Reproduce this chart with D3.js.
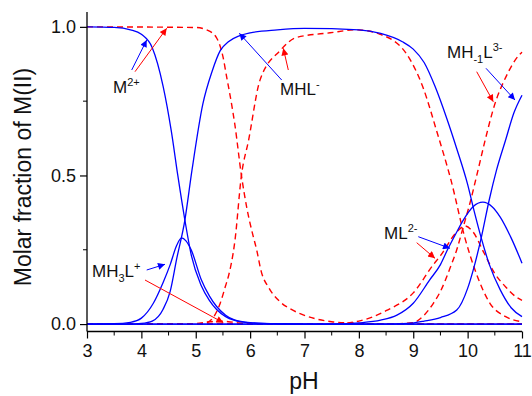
<!DOCTYPE html>
<html>
<head>
<meta charset="utf-8">
<script src="https://cdn.jsdelivr.net/npm/d3@7"></script>
<style>
  body { margin: 0; background: #fff; }
  text { font-family: "Liberation Sans", Arial, sans-serif; fill: #111; }
</style>
</head>
<body>
<div id="chart"></div>
<script>
// pH / fraction pairs
// blue (solid) system
var blueM = [[3,1],[3.5,0.998],[3.8,0.99],[4,0.975],[4.2,0.93],[4.4,0.8],[4.55,0.65],[4.67,0.5],[4.8,0.35],[4.92,0.23],[5.1,0.13],[5.25,0.08],[5.38,0.05],[5.55,0.025],[5.7,0.013],[6,0.004],[6.5,0.001],[7,0],[11,0]];
var blueMH3L = [[3,0],[3.5,0.001],[3.8,0.006],[4,0.02],[4.22,0.07],[4.4,0.14],[4.53,0.2],[4.65,0.265],[4.74,0.29],[4.82,0.28],[4.92,0.248],[5.1,0.15],[5.25,0.095],[5.38,0.06],[5.55,0.03],[5.7,0.015],[6,0.005],[6.5,0.001],[7,0],[11,0]];
var blueMHL = [[3,0],[3.8,0],[4,0.002],[4.2,0.01],[4.4,0.05],[4.53,0.11],[4.65,0.22],[4.8,0.35],[4.93,0.517],[5.13,0.74],[5.3,0.85],[5.45,0.92],[5.6,0.95],[5.8,0.97],[6,0.98],[6.5,0.99],[7,0.995],[8,0.99],[8.4,0.978],[8.8,0.95],[9,0.925],[9.2,0.88],[9.4,0.8],[9.62,0.69],[9.8,0.59],[10,0.47],[10.12,0.38],[10.25,0.29],[10.4,0.2],[10.6,0.115],[10.8,0.055],[11,0.025]];
var blueML = [[3,0],[7.5,0],[8,0.004],[8.4,0.013],[8.7,0.03],[9,0.07],[9.3,0.148],[9.5,0.2],[9.64,0.254],[9.8,0.31],[9.92,0.35],[10.1,0.395],[10.28,0.41],[10.45,0.395],[10.6,0.36],[10.8,0.29],[11,0.205]];
var blueMH1L = [[3,0],[8.5,0],[8.9,0.002],[9.2,0.01],[9.5,0.022],[9.8,0.047],[10,0.12],[10.1,0.18],[10.25,0.29],[10.4,0.42],[10.53,0.517],[10.7,0.62],[10.85,0.71],[11,0.77]];

// red (dashed) system
var redM = [[3,1],[5,0.998],[5.2,0.99],[5.38,0.964],[5.5,0.9],[5.57,0.83],[5.65,0.75],[5.72,0.67],[5.84,0.5],[5.94,0.39],[6.05,0.3],[6.12,0.25],[6.2,0.18],[6.35,0.12],[6.55,0.075],[6.75,0.05],[6.92,0.035],[7.2,0.018],[7.5,0.008],[8,0.002],[8.5,0],[11,0]];
var redMH3L = [[3,0],[4.8,0],[5,0.002],[5.2,0.006],[5.4,0.01],[5.6,0.008],[5.8,0.004],[6,0.001],[6.5,0],[11,0]];
var redMHL = [[3,0],[5,0],[5.2,0.005],[5.35,0.03],[5.45,0.07],[5.55,0.13],[5.6,0.16],[5.72,0.28],[5.84,0.5],[5.97,0.617],[6.18,0.82],[6.55,0.92],[6.85,0.964],[7.47,0.98],[7.96,0.99],[8.39,0.975],[8.88,0.908],[9.18,0.796],[9.43,0.65],[9.7,0.48],[9.95,0.29],[10.16,0.17],[10.41,0.07],[10.7,0.025],[11,0.008]];
var redML = [[3,0],[7.5,0],[8,0.01],[8.5,0.045],[9,0.105],[9.37,0.2],[9.5,0.23],[9.8,0.31],[9.95,0.33],[10.1,0.31],[10.3,0.24],[10.5,0.17],[10.7,0.125],[10.9,0.09],[11,0.08]];
var redMH1L = [[3,0],[8.5,0],[9,0.005],[9.2,0.03],[9.37,0.07],[9.5,0.11],[9.68,0.19],[9.8,0.25],[9.92,0.327],[10.04,0.405],[10.19,0.517],[10.32,0.617],[10.5,0.74],[10.7,0.83],[10.96,0.908],[11,0.915]];

var xTicks = [3, 4, 5, 6, 7, 8, 9, 10, 11];
var xMinor = [3.5, 4.5, 5.5, 6.5, 7.5, 8.5, 9.5, 10.5];
var yTicks = [0, 0.5, 1];
var yMinor = [0.25, 0.75];

var svgWidth = 532;
var svgHeight = 396;

var svg = d3.select("#chart")
    .append("svg")
    .attr("width", svgWidth)
    .attr("height", svgHeight);

var xScale = d3.scaleLinear().domain([3, 11]).range([87, 522]);
var yScale = d3.scaleLinear().domain([-0.025, 1.05]).range([331.5, 12]);

// arrow heads
var defs = svg.append("defs");
["blue", "red"].forEach(function (c) {
    defs.append("marker")
        .attr("id", "arrow-" + c)
        .attr("viewBox", "0 0 10 10")
        .attr("refX", 10)
        .attr("refY", 5)
        .attr("markerUnits", "userSpaceOnUse")
        .attr("markerWidth", 9)
        .attr("markerHeight", 7)
        .attr("orient", "auto")
        .append("path")
        .attr("d", "M0,0 L10,5 L0,10 z")
        .attr("fill", c == "blue" ? "#0000ff" : "#ff0000");
});

var line = d3.line()
    .x(d => xScale(d[0]))
    .y(d => yScale(d[1]))
    .curve(d3.curveMonotoneX);

var plot = svg.append("g");

[redM, redMH3L, redMHL, redML, redMH1L].forEach(function (s) {
    plot.append("path")
        .attr("d", line(s))
        .attr("fill", "none")
        .attr("stroke", "#ff0000")
        .attr("stroke-width", 1.4)
        .attr("stroke-dasharray", "6,4");
});

[blueM, blueMH3L, blueMHL, blueML, blueMH1L].forEach(function (s) {
    plot.append("path")
        .attr("d", line(s))
        .attr("fill", "none")
        .attr("stroke", "#0000ff")
        .attr("stroke-width", 1.3);
});

// axes
var xAxis = svg.append("g")
    .attr("transform", "translate(0,331.5)")
    .call(d3.axisBottom(xScale).tickValues(xTicks).tickSize(7).tickPadding(6).tickFormat(d3.format("d")));
xAxis.selectAll(".tick.minor").data(xMinor).enter()
    .append("line")
    .attr("x1", d => xScale(d)).attr("x2", d => xScale(d))
    .attr("y1", 0).attr("y2", 4)
    .attr("stroke", "#000");

var yAxis = svg.append("g")
    .attr("transform", "translate(87,0)")
    .call(d3.axisLeft(yScale).tickValues(yTicks).tickSize(7).tickPadding(4).tickFormat(d3.format(".1f")));
yAxis.selectAll(".tick.minor").data(yMinor).enter()
    .append("line")
    .attr("x1", -4).attr("x2", 0)
    .attr("y1", d => yScale(d)).attr("y2", d => yScale(d))
    .attr("stroke", "#000");

[xAxis, yAxis].forEach(function (a) {
    a.select(".domain").attr("stroke", "#000").attr("stroke-width", 1.3);
    a.selectAll(".tick line").attr("stroke-width", 1.2);
    a.selectAll(".tick text")
        .attr("font-size", 18)
        .attr("fill", "#111")
        .attr("font-family", "'Liberation Sans', Arial, sans-serif");
});
// drop d3's outer tick end-caps
xAxis.select(".domain").attr("d", "M87,0H522");
yAxis.select(".domain").attr("d", "M0,12V" + 331.5);

// axis titles
svg.append("text")
    .attr("transform", "translate(31,177) rotate(-90)")
    .attr("text-anchor", "middle")
    .attr("font-size", 23)
    .text("Molar fraction of M(II)");

svg.append("text")
    .attr("x", 304)
    .attr("y", 389)
    .attr("text-anchor", "middle")
    .attr("font-size", 23)
    .text("pH");

// species labels with sub/superscripts
function label(x, y, parts) {
    var t = svg.append("text").attr("x", x).attr("y", y).attr("font-size", 17);
    var shift = 0;
    parts.forEach(function (p) {
        var target = p[1] == "sup" ? -7 : p[1] == "sub" ? 5 : 0;
        t.append("tspan")
            .attr("dy", target - shift)
            .attr("font-size", p[1] ? 11 : 17)
            .text(p[0]);
        shift = target;
    });
}
label(113, 93, [["M", ""], ["2+", "sup"]]);
label(280, 95, [["MHL", ""], ["-", "sup"]]);
label(447, 58, [["MH", ""], ["-1", "sub"], ["L", ""], ["3-", "sup"]]);
label(384, 239, [["ML", ""], ["2-", "sup"]]);
label(92, 277, [["MH", ""], ["3", "sub"], ["L", ""], ["+", "sup"]]);

// pointer arrows
var arrows = [
    ["blue", 131.7, 70, 146.7, 40],
    ["red", 135, 71.7, 166.7, 28.3],
    ["blue", 281.7, 80, 239.3, 33.3],
    ["red", 288.3, 70, 283.3, 48.3],
    ["red", 476.7, 71.7, 493.3, 101.7],
    ["blue", 486, 68.3, 515, 100],
    ["blue", 418.3, 236.7, 450, 248.3],
    ["red", 416.7, 242.7, 435, 258.3],
    ["blue", 146.7, 270, 165, 264.3],
    ["red", 145, 280, 223.3, 322.7]
];
arrows.forEach(function (a) {
    svg.append("line")
        .attr("x1", a[1]).attr("y1", a[2])
        .attr("x2", a[3]).attr("y2", a[4])
        .attr("stroke", a[0] == "blue" ? "#0000ff" : "#ff0000")
        .attr("stroke-width", 1)
        .attr("marker-end", "url(#arrow-" + a[0] + ")");
});
</script>
</body>
</html>
